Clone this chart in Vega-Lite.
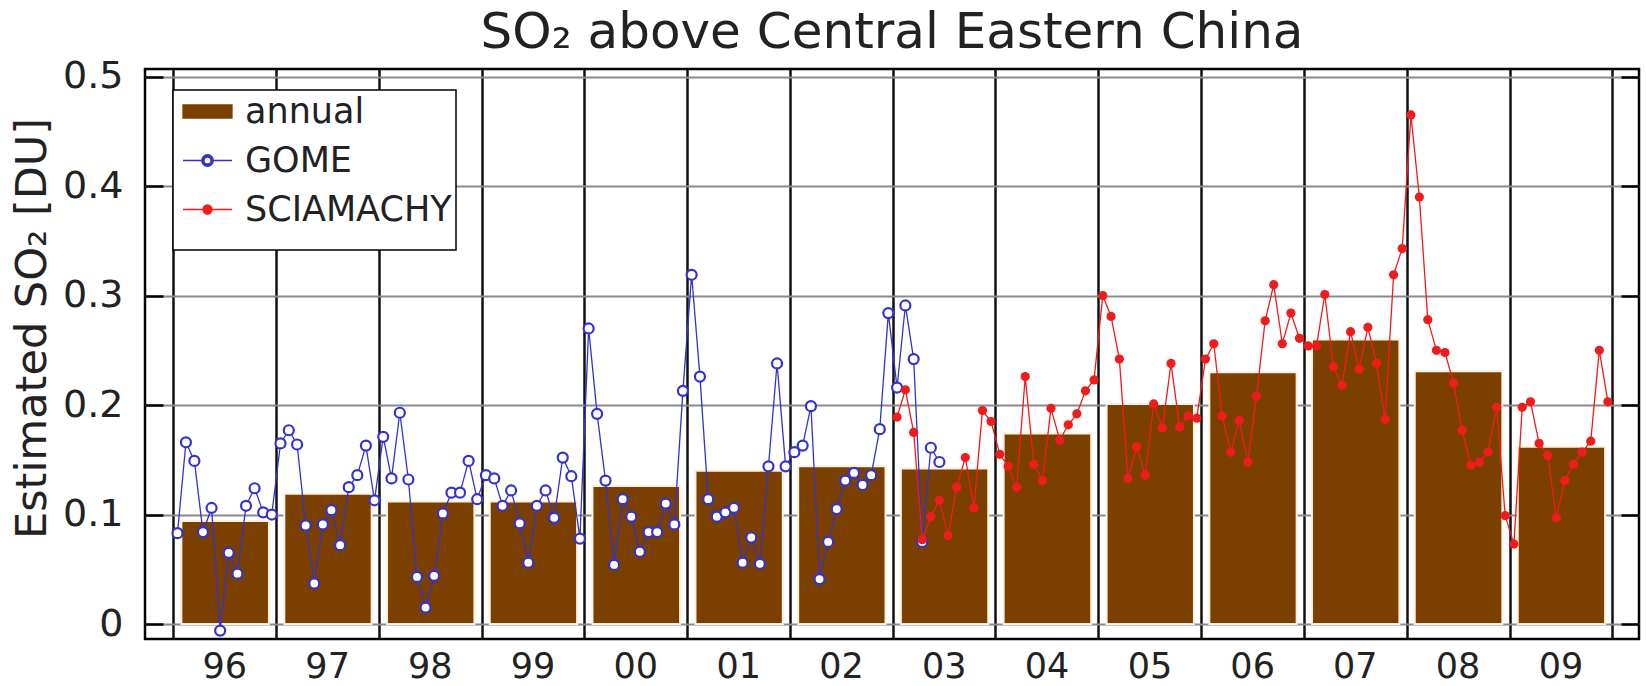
{
  "$schema": "https://vega.github.io/schema/vega-lite/v6.json",
  "width": 1494,
  "height": 570,
  "autosize": {"type": "none"},
  "padding": {"left": 145, "top": 69, "right": 7, "bottom": 47},
  "background": "white",
  "title": {
    "text": "SO₂ above Central Eastern China",
    "font": "DejaVu Sans",
    "fontSize": 50,
    "fontWeight": "normal",
    "color": "#222222",
    "anchor": "middle",
    "offset": 12,
    "dy": 12
  },
  "datasets": {
    "annual": [
      {"year": "1996", "so2": 0.094},
      {"year": "1997", "so2": 0.119},
      {"year": "1998", "so2": 0.112},
      {"year": "1999", "so2": 0.112},
      {"year": "2000", "so2": 0.126},
      {"year": "2001", "so2": 0.140},
      {"year": "2002", "so2": 0.144},
      {"year": "2003", "so2": 0.142},
      {"year": "2004", "so2": 0.174},
      {"year": "2005", "so2": 0.201},
      {"year": "2006", "so2": 0.230},
      {"year": "2007", "so2": 0.260},
      {"year": "2008", "so2": 0.231},
      {"year": "2009", "so2": 0.162}
    ],
    "monthly": [
      {"instrument": "GOME", "month": "1996-01", "so2": 0.083},
      {"instrument": "GOME", "month": "1996-02", "so2": 0.166},
      {"instrument": "GOME", "month": "1996-03", "so2": 0.149},
      {"instrument": "GOME", "month": "1996-04", "so2": 0.084},
      {"instrument": "GOME", "month": "1996-05", "so2": 0.106},
      {"instrument": "GOME", "month": "1996-06", "so2": -0.006},
      {"instrument": "GOME", "month": "1996-07", "so2": 0.065},
      {"instrument": "GOME", "month": "1996-08", "so2": 0.046},
      {"instrument": "GOME", "month": "1996-09", "so2": 0.108},
      {"instrument": "GOME", "month": "1996-10", "so2": 0.124},
      {"instrument": "GOME", "month": "1996-11", "so2": 0.102},
      {"instrument": "GOME", "month": "1996-12", "so2": 0.100},
      {"instrument": "GOME", "month": "1997-01", "so2": 0.165},
      {"instrument": "GOME", "month": "1997-02", "so2": 0.177},
      {"instrument": "GOME", "month": "1997-03", "so2": 0.164},
      {"instrument": "GOME", "month": "1997-04", "so2": 0.090},
      {"instrument": "GOME", "month": "1997-05", "so2": 0.037},
      {"instrument": "GOME", "month": "1997-06", "so2": 0.091},
      {"instrument": "GOME", "month": "1997-07", "so2": 0.104},
      {"instrument": "GOME", "month": "1997-08", "so2": 0.072},
      {"instrument": "GOME", "month": "1997-09", "so2": 0.125},
      {"instrument": "GOME", "month": "1997-10", "so2": 0.136},
      {"instrument": "GOME", "month": "1997-11", "so2": 0.163},
      {"instrument": "GOME", "month": "1997-12", "so2": 0.113},
      {"instrument": "GOME", "month": "1998-01", "so2": 0.171},
      {"instrument": "GOME", "month": "1998-02", "so2": 0.133},
      {"instrument": "GOME", "month": "1998-03", "so2": 0.193},
      {"instrument": "GOME", "month": "1998-04", "so2": 0.132},
      {"instrument": "GOME", "month": "1998-05", "so2": 0.043},
      {"instrument": "GOME", "month": "1998-06", "so2": 0.015},
      {"instrument": "GOME", "month": "1998-07", "so2": 0.044},
      {"instrument": "GOME", "month": "1998-08", "so2": 0.101},
      {"instrument": "GOME", "month": "1998-09", "so2": 0.120},
      {"instrument": "GOME", "month": "1998-10", "so2": 0.120},
      {"instrument": "GOME", "month": "1998-11", "so2": 0.149},
      {"instrument": "GOME", "month": "1998-12", "so2": 0.114},
      {"instrument": "GOME", "month": "1999-01", "so2": 0.136},
      {"instrument": "GOME", "month": "1999-02", "so2": 0.133},
      {"instrument": "GOME", "month": "1999-03", "so2": 0.108},
      {"instrument": "GOME", "month": "1999-04", "so2": 0.122},
      {"instrument": "GOME", "month": "1999-05", "so2": 0.092},
      {"instrument": "GOME", "month": "1999-06", "so2": 0.056},
      {"instrument": "GOME", "month": "1999-07", "so2": 0.108},
      {"instrument": "GOME", "month": "1999-08", "so2": 0.122},
      {"instrument": "GOME", "month": "1999-09", "so2": 0.097},
      {"instrument": "GOME", "month": "1999-10", "so2": 0.152},
      {"instrument": "GOME", "month": "1999-11", "so2": 0.135},
      {"instrument": "GOME", "month": "1999-12", "so2": 0.078},
      {"instrument": "GOME", "month": "2000-01", "so2": 0.270},
      {"instrument": "GOME", "month": "2000-02", "so2": 0.192},
      {"instrument": "GOME", "month": "2000-03", "so2": 0.131},
      {"instrument": "GOME", "month": "2000-04", "so2": 0.054},
      {"instrument": "GOME", "month": "2000-05", "so2": 0.114},
      {"instrument": "GOME", "month": "2000-06", "so2": 0.098},
      {"instrument": "GOME", "month": "2000-07", "so2": 0.066},
      {"instrument": "GOME", "month": "2000-08", "so2": 0.084},
      {"instrument": "GOME", "month": "2000-09", "so2": 0.084},
      {"instrument": "GOME", "month": "2000-10", "so2": 0.110},
      {"instrument": "GOME", "month": "2000-11", "so2": 0.091},
      {"instrument": "GOME", "month": "2000-12", "so2": 0.213},
      {"instrument": "GOME", "month": "2001-01", "so2": 0.319},
      {"instrument": "GOME", "month": "2001-02", "so2": 0.226},
      {"instrument": "GOME", "month": "2001-03", "so2": 0.114},
      {"instrument": "GOME", "month": "2001-04", "so2": 0.098},
      {"instrument": "GOME", "month": "2001-05", "so2": 0.102},
      {"instrument": "GOME", "month": "2001-06", "so2": 0.106},
      {"instrument": "GOME", "month": "2001-07", "so2": 0.056},
      {"instrument": "GOME", "month": "2001-08", "so2": 0.079},
      {"instrument": "GOME", "month": "2001-09", "so2": 0.055},
      {"instrument": "GOME", "month": "2001-10", "so2": 0.144},
      {"instrument": "GOME", "month": "2001-11", "so2": 0.238},
      {"instrument": "GOME", "month": "2001-12", "so2": 0.144},
      {"instrument": "GOME", "month": "2002-01", "so2": 0.157},
      {"instrument": "GOME", "month": "2002-02", "so2": 0.163},
      {"instrument": "GOME", "month": "2002-03", "so2": 0.199},
      {"instrument": "GOME", "month": "2002-04", "so2": 0.041},
      {"instrument": "GOME", "month": "2002-05", "so2": 0.075},
      {"instrument": "GOME", "month": "2002-06", "so2": 0.105},
      {"instrument": "GOME", "month": "2002-07", "so2": 0.131},
      {"instrument": "GOME", "month": "2002-08", "so2": 0.138},
      {"instrument": "GOME", "month": "2002-09", "so2": 0.127},
      {"instrument": "GOME", "month": "2002-10", "so2": 0.136},
      {"instrument": "GOME", "month": "2002-11", "so2": 0.178},
      {"instrument": "GOME", "month": "2002-12", "so2": 0.284},
      {"instrument": "GOME", "month": "2003-01", "so2": 0.216},
      {"instrument": "GOME", "month": "2003-02", "so2": 0.291},
      {"instrument": "GOME", "month": "2003-03", "so2": 0.242},
      {"instrument": "GOME", "month": "2003-04", "so2": 0.075},
      {"instrument": "GOME", "month": "2003-05", "so2": 0.161},
      {"instrument": "GOME", "month": "2003-06", "so2": 0.148},
      {"instrument": "SCIAMACHY", "month": "2003-01", "so2": 0.189},
      {"instrument": "SCIAMACHY", "month": "2003-02", "so2": 0.214},
      {"instrument": "SCIAMACHY", "month": "2003-03", "so2": 0.175},
      {"instrument": "SCIAMACHY", "month": "2003-04", "so2": 0.077},
      {"instrument": "SCIAMACHY", "month": "2003-05", "so2": 0.098},
      {"instrument": "SCIAMACHY", "month": "2003-06", "so2": 0.113},
      {"instrument": "SCIAMACHY", "month": "2003-07", "so2": 0.081},
      {"instrument": "SCIAMACHY", "month": "2003-08", "so2": 0.125},
      {"instrument": "SCIAMACHY", "month": "2003-09", "so2": 0.152},
      {"instrument": "SCIAMACHY", "month": "2003-10", "so2": 0.106},
      {"instrument": "SCIAMACHY", "month": "2003-11", "so2": 0.195},
      {"instrument": "SCIAMACHY", "month": "2003-12", "so2": 0.185},
      {"instrument": "SCIAMACHY", "month": "2004-01", "so2": 0.155},
      {"instrument": "SCIAMACHY", "month": "2004-02", "so2": 0.144},
      {"instrument": "SCIAMACHY", "month": "2004-03", "so2": 0.125},
      {"instrument": "SCIAMACHY", "month": "2004-04", "so2": 0.226},
      {"instrument": "SCIAMACHY", "month": "2004-05", "so2": 0.146},
      {"instrument": "SCIAMACHY", "month": "2004-06", "so2": 0.131},
      {"instrument": "SCIAMACHY", "month": "2004-07", "so2": 0.197},
      {"instrument": "SCIAMACHY", "month": "2004-08", "so2": 0.168},
      {"instrument": "SCIAMACHY", "month": "2004-09", "so2": 0.182},
      {"instrument": "SCIAMACHY", "month": "2004-10", "so2": 0.192},
      {"instrument": "SCIAMACHY", "month": "2004-11", "so2": 0.213},
      {"instrument": "SCIAMACHY", "month": "2004-12", "so2": 0.223},
      {"instrument": "SCIAMACHY", "month": "2005-01", "so2": 0.300},
      {"instrument": "SCIAMACHY", "month": "2005-02", "so2": 0.281},
      {"instrument": "SCIAMACHY", "month": "2005-03", "so2": 0.242},
      {"instrument": "SCIAMACHY", "month": "2005-04", "so2": 0.133},
      {"instrument": "SCIAMACHY", "month": "2005-05", "so2": 0.162},
      {"instrument": "SCIAMACHY", "month": "2005-06", "so2": 0.136},
      {"instrument": "SCIAMACHY", "month": "2005-07", "so2": 0.201},
      {"instrument": "SCIAMACHY", "month": "2005-08", "so2": 0.179},
      {"instrument": "SCIAMACHY", "month": "2005-09", "so2": 0.238},
      {"instrument": "SCIAMACHY", "month": "2005-10", "so2": 0.180},
      {"instrument": "SCIAMACHY", "month": "2005-11", "so2": 0.190},
      {"instrument": "SCIAMACHY", "month": "2005-12", "so2": 0.188},
      {"instrument": "SCIAMACHY", "month": "2006-01", "so2": 0.242},
      {"instrument": "SCIAMACHY", "month": "2006-02", "so2": 0.256},
      {"instrument": "SCIAMACHY", "month": "2006-03", "so2": 0.190},
      {"instrument": "SCIAMACHY", "month": "2006-04", "so2": 0.157},
      {"instrument": "SCIAMACHY", "month": "2006-05", "so2": 0.186},
      {"instrument": "SCIAMACHY", "month": "2006-06", "so2": 0.148},
      {"instrument": "SCIAMACHY", "month": "2006-07", "so2": 0.208},
      {"instrument": "SCIAMACHY", "month": "2006-08", "so2": 0.277},
      {"instrument": "SCIAMACHY", "month": "2006-09", "so2": 0.310},
      {"instrument": "SCIAMACHY", "month": "2006-10", "so2": 0.256},
      {"instrument": "SCIAMACHY", "month": "2006-11", "so2": 0.284},
      {"instrument": "SCIAMACHY", "month": "2006-12", "so2": 0.261},
      {"instrument": "SCIAMACHY", "month": "2007-01", "so2": 0.254},
      {"instrument": "SCIAMACHY", "month": "2007-02", "so2": 0.254},
      {"instrument": "SCIAMACHY", "month": "2007-03", "so2": 0.301},
      {"instrument": "SCIAMACHY", "month": "2007-04", "so2": 0.235},
      {"instrument": "SCIAMACHY", "month": "2007-05", "so2": 0.218},
      {"instrument": "SCIAMACHY", "month": "2007-06", "so2": 0.267},
      {"instrument": "SCIAMACHY", "month": "2007-07", "so2": 0.233},
      {"instrument": "SCIAMACHY", "month": "2007-08", "so2": 0.271},
      {"instrument": "SCIAMACHY", "month": "2007-09", "so2": 0.238},
      {"instrument": "SCIAMACHY", "month": "2007-10", "so2": 0.187},
      {"instrument": "SCIAMACHY", "month": "2007-11", "so2": 0.319},
      {"instrument": "SCIAMACHY", "month": "2007-12", "so2": 0.343},
      {"instrument": "SCIAMACHY", "month": "2008-01", "so2": 0.465},
      {"instrument": "SCIAMACHY", "month": "2008-02", "so2": 0.390},
      {"instrument": "SCIAMACHY", "month": "2008-03", "so2": 0.278},
      {"instrument": "SCIAMACHY", "month": "2008-04", "so2": 0.250},
      {"instrument": "SCIAMACHY", "month": "2008-05", "so2": 0.248},
      {"instrument": "SCIAMACHY", "month": "2008-06", "so2": 0.220},
      {"instrument": "SCIAMACHY", "month": "2008-07", "so2": 0.177},
      {"instrument": "SCIAMACHY", "month": "2008-08", "so2": 0.145},
      {"instrument": "SCIAMACHY", "month": "2008-09", "so2": 0.148},
      {"instrument": "SCIAMACHY", "month": "2008-10", "so2": 0.157},
      {"instrument": "SCIAMACHY", "month": "2008-11", "so2": 0.198},
      {"instrument": "SCIAMACHY", "month": "2008-12", "so2": 0.099},
      {"instrument": "SCIAMACHY", "month": "2009-01", "so2": 0.073},
      {"instrument": "SCIAMACHY", "month": "2009-02", "so2": 0.198},
      {"instrument": "SCIAMACHY", "month": "2009-03", "so2": 0.203},
      {"instrument": "SCIAMACHY", "month": "2009-04", "so2": 0.165},
      {"instrument": "SCIAMACHY", "month": "2009-05", "so2": 0.154},
      {"instrument": "SCIAMACHY", "month": "2009-06", "so2": 0.097},
      {"instrument": "SCIAMACHY", "month": "2009-07", "so2": 0.131},
      {"instrument": "SCIAMACHY", "month": "2009-08", "so2": 0.146},
      {"instrument": "SCIAMACHY", "month": "2009-09", "so2": 0.157},
      {"instrument": "SCIAMACHY", "month": "2009-10", "so2": 0.167},
      {"instrument": "SCIAMACHY", "month": "2009-11", "so2": 0.250},
      {"instrument": "SCIAMACHY", "month": "2009-12", "so2": 0.203}
    ]
  },
  "layer": [
    {
      "data": {"name": "annual"},
      "mark": {"type": "bar", "width": {"band": 0.86}, "stroke": "#fdf0dc", "strokeWidth": 2},
      "encoding": {
        "x": {
          "field": "year",
          "timeUnit": "utcyear",
          "type": "temporal",
          "scale": {
            "type": "utc",
            "domain": [
              {"year": 1995, "month": 9, "date": 23, "utc": true},
              {"year": 2010, "month": 4, "date": 6, "utc": true}
            ]
          },
          "axis": {
            "values": [
              {"year": 1996, "utc": true}, {"year": 1997, "utc": true}, {"year": 1998, "utc": true},
              {"year": 1999, "utc": true}, {"year": 2000, "utc": true}, {"year": 2001, "utc": true},
              {"year": 2002, "utc": true}, {"year": 2003, "utc": true}, {"year": 2004, "utc": true},
              {"year": 2005, "utc": true}, {"year": 2006, "utc": true}, {"year": 2007, "utc": true},
              {"year": 2008, "utc": true}, {"year": 2009, "utc": true}, {"year": 2010, "utc": true}
            ],
            "grid": true,
            "gridColor": "#111111",
            "gridWidth": 2.5,
            "ticks": false,
            "domain": false,
            "labelExpr": "utcyear(datum.value) >= 2010 ? '' : utcFormat(datum.value, '%y')",
            "labelOffset": 51,
            "labelAlign": "center",
            "labelBaseline": "middle",
            "labelPadding": 27,
            "labelFont": "DejaVu Sans",
            "labelFontSize": 35,
            "labelColor": "#222222",
            "labelOverlap": false,
            "labelFlush": false,
            "title": null
          }
        },
        "y": {
          "field": "so2",
          "type": "quantitative",
          "scale": {"domain": [-0.0137, 0.507], "nice": false, "zero": false},
          "axis": {
            "values": [0, 0.1, 0.2, 0.3, 0.4, 0.5],
            "grid": true,
            "gridColor": "#8a8a8a",
            "gridWidth": 2,
            "ticks": false,
            "domain": false,
            "format": "~g",
            "labelFont": "DejaVu Sans",
            "labelFontSize": 38,
            "labelColor": "#222222",
            "labelPadding": 22,
            "labelOverlap": false,
            "title": "Estimated SO₂ [DU]",
            "titleFont": "DejaVu Sans",
            "titleFontSize": 43,
            "titleFontWeight": "normal",
            "titleColor": "#222222",
            "titleAngle": -90,
            "titleX": -113,
            "titleY": 259,
            "titleAlign": "center",
            "titleBaseline": "middle"
          }
        },
        "color": {
          "datum": "annual",
          "type": "nominal",
          "scale": {
            "domain": ["annual", "GOME", "SCIAMACHY"],
            "range": ["#7b4000", "#3333cc", "#ee1c1c"]
          },
          "legend": {
            "orient": "none",
            "legendX": 28,
            "legendY": 21,
            "title": " ",
            "titleOrient": "bottom",
            "titleFontSize": 10,
            "titlePadding": 8,
            "padding": 4,
            "fillColor": "white",
            "strokeColor": "black",
            "labelFont": "DejaVu Sans",
            "labelFontSize": 35,
            "labelColor": "#222222",
            "labelLimit": 400,
            "symbolSize": 100,
            "symbolOffset": 13,
            "labelOffset": 20,
            "rowPadding": 13,
            "encode": {
              "symbols": {
                "update": {
                  "shape": {"signal": "datum.value === 'annual' ? 'M-4.9,-1.3H4.9V1.3H-4.9Z' : datum.value === 'GOME' ? 'M-4.9,0H-1.15M1.15,0H4.9M-1.15,0A1.15,1.15,0,1,1,1.15,0A1.15,1.15,0,1,1,-1.15,0ZM-0.7,0A0.7,0.7,0,1,0,0.7,0A0.7,0.7,0,1,0,-0.7,0Z' : 'M-4.9,0H4.9M-0.9,0A0.9,0.9,0,1,1,0.9,0A0.9,0.9,0,1,1,-0.9,0Z'"},
                  "fill": {"signal": "scale('color', datum.value)"},
                  "stroke": {"signal": "datum.value === 'annual' ? 'transparent' : scale('color', datum.value)"},
                  "strokeWidth": {"value": 1.3},
                  "opacity": {"value": 1},
                  "fillOpacity": {"value": 1}
                }
              },
              "legend": {"update": {"strokeWidth": {"value": 1.5}}}
            }
          }
        }
      }
    },
    {
      "data": {"name": "monthly"},
      "mark": {"type": "line", "strokeWidth": 1.3},
      "encoding": {
        "x": {"field": "month", "timeUnit": "utcyearmonth", "type": "temporal", "bandPosition": 0.5},
        "y": {
          "field": "so2",
          "type": "quantitative",
          "axis": {
            "orient": "left",
            "values": [0, 0.1, 0.2, 0.3, 0.4, 0.5],
            "labels": false,
            "grid": false,
            "domain": false,
            "ticks": true,
            "tickSize": -18,
            "tickColor": "black",
            "tickWidth": 2.5,
            "title": null
          }
        },
        "color": {
          "field": "instrument",
          "type": "nominal",
          "legend": {
            "orient": "none",
            "legendX": 28,
            "legendY": 21,
            "title": " ",
            "titleOrient": "bottom",
            "titleFontSize": 10,
            "titlePadding": 8,
            "padding": 4,
            "fillColor": "white",
            "strokeColor": "black",
            "labelFont": "DejaVu Sans",
            "labelFontSize": 35,
            "labelColor": "#222222",
            "labelLimit": 400,
            "symbolSize": 100,
            "symbolOffset": 13,
            "labelOffset": 20,
            "rowPadding": 13,
            "encode": {
              "symbols": {
                "update": {
                  "shape": {"signal": "datum.value === 'annual' ? 'M-4.9,-1.3H4.9V1.3H-4.9Z' : datum.value === 'GOME' ? 'M-4.9,0H-1.15M1.15,0H4.9M-1.15,0A1.15,1.15,0,1,1,1.15,0A1.15,1.15,0,1,1,-1.15,0ZM-0.7,0A0.7,0.7,0,1,0,0.7,0A0.7,0.7,0,1,0,-0.7,0Z' : 'M-4.9,0H4.9M-0.9,0A0.9,0.9,0,1,1,0.9,0A0.9,0.9,0,1,1,-0.9,0Z'"},
                  "fill": {"signal": "scale('color', datum.value)"},
                  "stroke": {"signal": "datum.value === 'annual' ? 'transparent' : scale('color', datum.value)"},
                  "strokeWidth": {"value": 1.3},
                  "opacity": {"value": 1},
                  "fillOpacity": {"value": 1}
                }
              },
              "legend": {"update": {"strokeWidth": {"value": 1.5}}}
            }
          }
        }
      }
    },
    {
      "data": {"name": "monthly"},
      "transform": [{"filter": "datum.instrument === 'GOME'"}],
      "mark": {"type": "point", "shape": "circle", "filled": true, "fill": "white", "stroke": "#3333cc", "strokeWidth": 2.2, "size": 100, "opacity": 1},
      "encoding": {
        "x": {"field": "month", "timeUnit": "utcyearmonth", "type": "temporal", "bandPosition": 0.5},
        "y": {
          "field": "so2",
          "type": "quantitative",
          "axis": {
            "orient": "right",
            "values": [0, 0.1, 0.2, 0.3, 0.4, 0.5],
            "labels": false,
            "grid": false,
            "domain": false,
            "ticks": true,
            "tickSize": -18,
            "tickColor": "black",
            "tickWidth": 2.5,
            "title": null
          }
        }
      }
    },
    {
      "data": {"name": "monthly"},
      "transform": [{"filter": "datum.instrument === 'SCIAMACHY'"}],
      "mark": {"type": "circle", "color": "#ee1c1c", "size": 85, "opacity": 1},
      "encoding": {
        "x": {"field": "month", "timeUnit": "utcyearmonth", "type": "temporal", "bandPosition": 0.5},
        "y": {"field": "so2", "type": "quantitative", "axis": null}
      }
    }
  ],
  "resolve": {"axis": {"y": "independent"}},
  "config": {
    "view": {"stroke": "black", "strokeWidth": 2.5},
    "font": "DejaVu Sans"
  }
}
